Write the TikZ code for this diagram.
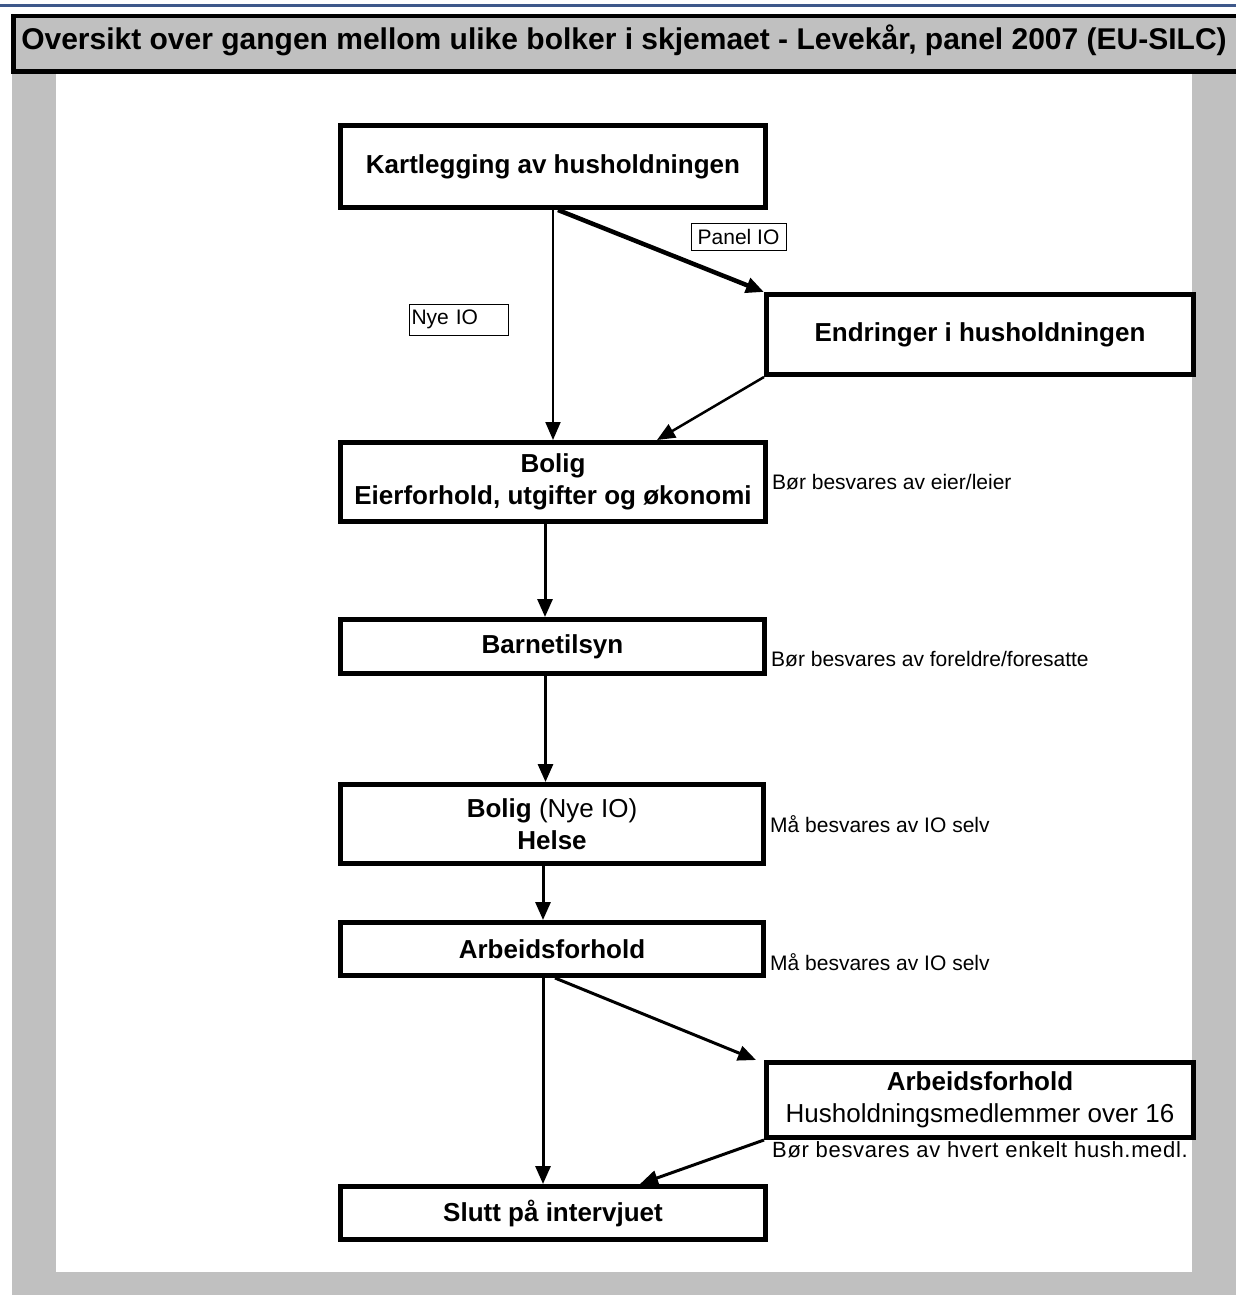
\documentclass[tikz,border=0pt]{standalone}
\usepackage{fontspec}
\setmainfont{Liberation Sans}
\usepackage{xcolor}
\usetikzlibrary{positioning,arrows.meta}

\definecolor{panelgray}{RGB}{192,192,192}
\definecolor{ruleblue}{RGB}{62,88,138}
\newcommand{\boxfont}{\fontsize{26}{32}\selectfont\bfseries}
\newcommand{\notefont}{\fontsize{21}{25}\selectfont}

\begin{document}
\begin{tikzpicture}[x=1pt, y=-1pt,
        >={Triangle[length=18pt, width=15pt]},
    ]
    \tikzstyle{stepbox} = [draw=black, line width=5pt, fill=white, inner sep=0pt, align=center, font=\boxfont];
    \tikzstyle{note} = [inner sep=0pt, font=\notefont];
    \tikzstyle{tag} = [draw=black, line width=1pt, fill=white, inner sep=2.5pt, font=\notefont];
    \tikzstyle{flow} = [->, line width=3pt];
    \useasboundingbox (0,0) rectangle (1236,1295);
    \clip (0,0) rectangle (1236,1295);
    % frame and title
    \fill[panelgray] (12,71) rectangle (1240,1300);
    \fill[white] (56,71) rectangle (1192,1272);
    \draw[ruleblue, line width=3pt] (0,6) -- (1236,6);
    \node [draw=black, line width=4pt, fill=panelgray, inner sep=0pt, anchor=north west,
        minimum width=1240pt, minimum height=55pt] (head) at (12,14) {};
    \draw[line width=2pt] (head.north west) -- (head.south west) -- (head.south east);
    \node [font=\fontsize{30}{34}\selectfont\bfseries] (title) at (624,40)
        {Oversikt over gangen mellom ulike bolker i skjemaet - Levekår, panel 2007 (EU-SILC)};
    % boxes
    \node [stepbox, minimum width=425pt, minimum height=82pt] (kart) at (553,166.5) {Kartlegging av husholdningen};
    \node [stepbox, minimum width=427pt, minimum height=80pt] (endr) at (980,334.5) {Endringer i husholdningen};
    \node [stepbox, minimum width=425pt, minimum height=79pt] (bolig) at (553,482) {Bolig\\Eierforhold, utgifter og økonomi};
    \node [stepbox, minimum width=424pt, minimum height=54pt] (barn) at (552.5,646.5) {Barnetilsyn};
    \node [stepbox, minimum width=423pt, minimum height=79pt] (bolig2) at (552,824) {Bolig {\mdseries(Nye IO)}\\Helse};
    \node [stepbox, minimum width=423pt, minimum height=53pt] (arb) at (552,949) {Arbeidsforhold};
    \node [stepbox, minimum width=427pt, minimum height=75pt] (hh) at (980,1100) {Arbeidsforhold\\{\mdseries Husholdningsmedlemmer over 16}};
    \node [stepbox, minimum width=425pt, minimum height=53pt] (slutt) at (553,1213) {Slutt på intervjuet};
    % side notes
    \node [note, right = 4pt of bolig] (nbolig) {Bør besvares av eier/leier};
    \node [note, right = 4pt of barn, yshift=-13pt] (nbarn) {Bør besvares av foreldre/foresatte};
    \node [note, right = 4pt of bolig2] (nbolig2) {Må besvares av IO selv};
    \node [note, right = 4pt of arb, yshift=-13pt] (narb) {Må besvares av IO selv};
    \node [note, font=\fontsize{22}{25}\selectfont\addfontfeature{LetterSpace=3}, below right = 1pt and 8pt of hh.south west] (nhh)
        {Bør besvares av hvert enkelt hush.medl.};
    \node [tag, minimum width=95pt, minimum height=27pt] (panel) at (738.5,236.5) {Panel IO};
    \node [tag, text width=94pt, minimum height=31pt, align=left] (nye) at (458.5,319.5) {Nye IO};
    % arrows
    \draw [flow, line width=2pt] (kart.south) -- (bolig.north);
    \draw [flow, line width=4.5pt] ([xshift=5pt]kart.south) -- (endr.north west);
    \draw [flow, line width=2.5pt] (endr.south west) -- ([xshift=104pt]bolig.north);
    \draw [flow] ([xshift=-8pt]bolig.south) -- ([xshift=-8pt]bolig.south |- barn.north);
    \draw [flow] ([xshift=-7pt]barn.south) -- ([xshift=-7pt]barn.south |- bolig2.north);
    \draw [flow] ([xshift=-9pt]bolig2.south) -- ([xshift=-9pt]bolig2.south |- arb.north);
    \draw [flow] ([xshift=-9pt]arb.south) -- ([xshift=-9pt]arb.south |- slutt.north);
    \draw [flow] ([xshift=3pt]arb.south) -- ([xshift=-8pt]hh.north west);
    \draw [flow] (hh.south west) -- ([xshift=87pt]slutt.north);
\end{tikzpicture}
\end{document}
